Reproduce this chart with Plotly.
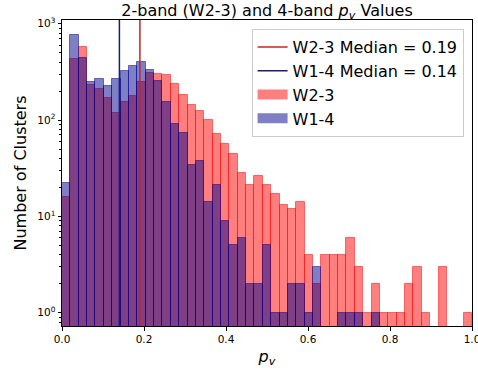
import numpy as np
import plotly.graph_objects as go

# ---- data ----
bin_edges = np.linspace(0.0, 1.0, 50)  # 49 bins
w23_counts = [16, 431, 574, 232, 210, 170, 118, 154, 178, 249,
              308, 301, 294, 237, 182, 143, 125, 100, 72, 56,
              44, 28, 21, 26, 21, 17, 13, 12, 14, 4,
              2, 4, 4, 4, 6, 3, 1, 2, 1, 1,
              1, 2, 3, 1, 0, 3, 0, 0, 1]
w14_counts = [22, 765, 441, 249, 267, 226, 267, 323, 365, 401,
              331, 255, 154, 91, 73, 34, 38, 14, 21, 9,
              5, 6, 2, 2, 5, 1, 1, 2, 2, 1,
              3, 0, 0, 1, 1, 1, 0, 1, 0, 0,
              0, 0, 0, 0, 0, 0, 0, 0, 0]
w23_median = 0.19
w14_median = 0.14
x_ticks = [0.0, 0.2, 0.4, 0.6, 0.8, 1.0]
x_tick_labels = ["0.0", "0.2", "0.4", "0.6", "0.8", "1.0"]
y_ticks = [1, 10, 100, 1000]
y_tick_labels = ["10<sup>0</sup>", "10<sup>1</sup>", "10<sup>2</sup>", "10<sup>3</sup>"]

centers = (bin_edges[:-1] + bin_edges[1:]) / 2
widths = np.diff(bin_edges)


def nz(vals):
    return [v if v > 0 else None for v in vals]


FONT = "DejaVu Sans"
RED_FILL = "rgba(255,0,0,0.5)"
BLUE_FILL = "rgba(0,0,139,0.5)"
fig = go.Figure()

fig.add_trace(go.Bar(
    x=centers, y=nz(w23_counts), width=widths, name="W2-3", showlegend=False,
    marker=dict(color=RED_FILL, line=dict(color=RED_FILL, width=1)),
))
fig.add_trace(go.Bar(
    x=centers, y=nz(w14_counts), width=widths, name="W1-4", showlegend=False,
    marker=dict(color=BLUE_FILL, line=dict(color=BLUE_FILL, width=1)),
))

# legend entries drawn as wide patches (like matplotlib)
fig.add_trace(go.Scatter(x=[None], y=[None], mode="lines", name="W2-3",
                         line=dict(color=RED_FILL, width=11), legendrank=3))
fig.add_trace(go.Scatter(x=[None], y=[None], mode="lines", name="W1-4",
                         line=dict(color=BLUE_FILL, width=11), legendrank=4))

fig.add_shape(type="line", x0=w23_median, x1=w23_median, y0=0, y1=1, xref="x", yref="paper",
              line=dict(color="#cc2222", width=1.5), layer="above",
              showlegend=True, name=f"W2-3 Median = {w23_median:.2f}", legendrank=1)
fig.add_shape(type="line", x0=w14_median, x1=w14_median, y0=0, y1=1, xref="x", yref="paper",
              line=dict(color="#1c1c72", width=1.5), layer="above",
              showlegend=True, name=f"W1-4 Median = {w14_median:.2f}", legendrank=2)

fig.update_layout(
    width=478, height=374,
    margin=dict(l=62, r=6, t=20, b=48),
    paper_bgcolor="white", plot_bgcolor="white",
    barmode="overlay", bargap=0,
    font=dict(family=FONT, color="black", size=16),
    title=dict(text="2-band (W2-3) and 4-band <i>p</i><sub><i>v</i></sub> Values",
               x=0.5, xref="paper", xanchor="center", y=0.973, yref="container", yanchor="middle",
               font=dict(size=16, family=FONT, color="black")),
    legend=dict(x=0.9795, y=0.9706, xanchor="right", yanchor="top",
                bgcolor="rgba(255,255,255,0.8)", bordercolor="#cccccc", borderwidth=1,
                font=dict(size=16, family=FONT, color="black"),
                traceorder="normal"),
    showlegend=True,
)

fig.update_xaxes(
    range=[0, 1.00001], tickvals=x_ticks, ticktext=x_tick_labels,
    ticks="outside", ticklen=3.5, tickwidth=1, tickcolor="black",
    ticklabeloverflow="allow", automargin=False,
    showline=True, linecolor="black", linewidth=1, mirror=True,
    showgrid=False, zeroline=False,
    tickfont=dict(size=10.5, family=FONT, color="black"),
    title=dict(text="<i>p</i><sub><i>v</i></sub>", font=dict(size=16, family=FONT, color="black"), standoff=6),
)
fig.update_yaxes(
    type="log", range=[-0.138, 3.039], tickvals=y_ticks, ticktext=y_tick_labels,
    ticks="outside", ticklen=3.5, tickwidth=1, tickcolor="black",
    automargin=False,
    minor=dict(ticks="outside", ticklen=2, tickwidth=0.6, tickcolor="black", dtick="D1", showgrid=False),
    showline=True, linecolor="black", linewidth=1, mirror=True,
    showgrid=False, zeroline=False,
    tickfont=dict(size=10.5, family=FONT, color="black"),
    title=dict(text="Number of Clusters", font=dict(size=16, family=FONT, color="black"), standoff=6),
)

fig.write_html("out.html")
